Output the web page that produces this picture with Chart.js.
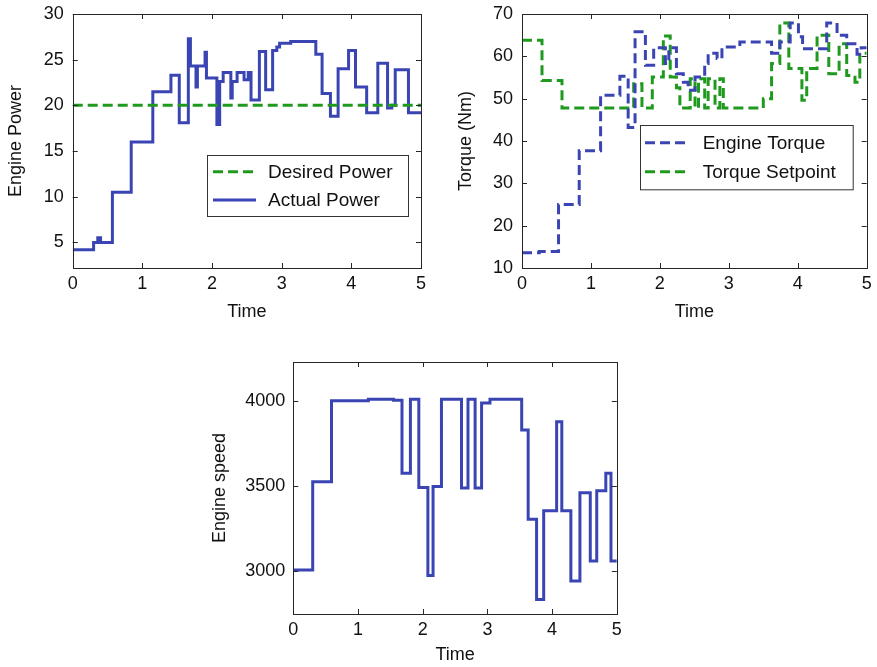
<!DOCTYPE html>
<html>
<head>
<meta charset="utf-8">
<title>Engine power, torque and speed</title>
<script src="https://cdn.jsdelivr.net/npm/chart.js@4.4.1/dist/chart.umd.min.js"></script>
<style>
  html, body { margin: 0; padding: 0; background: #fff; }
  body { width: 877px; height: 667px; position: relative; overflow: hidden; }
  canvas { position: absolute; }
</style>
</head>
<body>
<canvas id="power" width="440" height="330" style="left:0;top:0"></canvas>
<canvas id="torque" width="437" height="330" style="left:440px;top:0"></canvas>
<canvas id="speed" width="440" height="327" style="left:200px;top:340px"></canvas>
<script>
// ---- data: step signals, each value holds from its start time to the next ----
const xTicks = [0, 1, 2, 3, 4, 5];

const desiredPowerT = [0, 5];
const desiredPowerV = [20, 20];
const actualPowerT = [0, 0.30, 0.36, 0.40, 0.57, 0.84, 1.15, 1.41, 1.53, 1.66, 1.69, 1.77, 1.79, 1.90, 1.92,
  2.07, 2.11, 2.16, 2.27, 2.29, 2.36, 2.46, 2.52, 2.56, 2.68, 2.77, 2.87, 2.93, 2.97, 3.13,
  3.49, 3.58, 3.70, 3.81, 3.96, 4.06, 4.22, 4.38, 4.52, 4.58, 4.63, 4.82, 5.0];
const actualPowerV = [4.2, 5.0, 5.5, 5.0, 10.5, 16.0, 21.5, 23.3, 18.1, 27.3, 24.3, 22.0, 24.3, 25.8, 23.0,
  17.9, 22.6, 23.6, 20.8, 22.6, 23.6, 22.8, 23.6, 20.6, 25.9, 21.7, 26.0, 26.4, 26.8, 27.0,
  25.6, 21.3, 18.8, 24.0, 26.0, 22.0, 19.2, 24.6, 19.7, 20.0, 23.9, 19.2, 19.2];
const powerTicks = [5, 10, 15, 20, 25, 30];

const engineTorqueT = [0, 0.25, 0.53, 0.83, 1.14, 1.42, 1.54, 1.64, 1.79, 1.91, 2.08, 2.13, 2.24, 2.34, 2.41,
  2.51, 2.65, 2.70, 2.83, 2.90, 3.16, 3.62, 3.74, 3.89, 4.01, 4.07, 4.42, 4.57, 4.71, 4.86, 4.92, 5.0];
const engineTorqueV = [13.6, 13.9, 25.0, 37.7, 50.8, 55.3, 43.2, 65.8, 57.9, 62.0, 58.3, 62.0, 55.9, 53.9, 52.0,
  55.1, 58.3, 60.7, 59.5, 62.2, 63.4, 60.7, 63.4, 67.9, 64.6, 61.8, 67.9, 65.0, 63.0, 60.5, 62.0, 62.0];
const torqueSetpointT = [0, 0.29, 0.58, 1.62, 1.74, 1.89, 2.05, 2.15, 2.24, 2.29, 2.44, 2.51, 2.56, 2.65, 2.70,
  2.80, 2.87, 2.92, 3.50, 3.62, 3.74, 3.87, 4.06, 4.13, 4.28, 4.45, 4.60, 4.71, 4.83, 4.90, 5.0];
const torqueSetpointV = [63.8, 54.3, 47.8, 53.5, 47.8, 55.1, 64.8, 55.1, 52.6, 47.8, 54.7, 47.8, 54.7, 47.8, 54.7,
  47.8, 54.7, 47.8, 50.0, 58.3, 67.9, 57.1, 49.6, 57.1, 65.0, 55.9, 63.0, 55.5, 53.9, 60.7, 60.7];
const torqueTicks = [10, 20, 30, 40, 50, 60, 70];

const engineSpeedT = [0, 0.30, 0.59, 1.16, 1.55, 1.68, 1.81, 1.94, 2.08, 2.16, 2.29, 2.60, 2.70, 2.81, 2.91,
  3.04, 3.53, 3.63, 3.76, 3.87, 4.07, 4.15, 4.29, 4.43, 4.59, 4.69, 4.83, 4.91, 5.0];
const engineSpeedV = [3005, 3525, 4002, 4010, 4005, 3575, 4010, 3490, 2972, 3497, 4010, 3488, 4010, 3488, 3988,
  4010, 3830, 3303, 2831, 3354, 3878, 3354, 2939, 3460, 3057, 3471, 3574, 3057, 3057];
const speedTicks = [3000, 3500, 4000];

// ---- look ----
const BLUE = '#3a45b3';
const GREEN = '#1f9a1f';
const FONT = "'Liberation Sans', Arial, Helvetica, sans-serif";

const toPoints = (t, v) => t.map((x, i) => ({ x, y: v[i] }));

// axes box with MATLAB-style inward ticks on all four sides
const framePlugin = {
  id: 'frame',
  afterDatasetsDraw(chart) {
    const { ctx, chartArea: a, scales } = chart;
    const len = 5;
    ctx.save();
    ctx.strokeStyle = '#262626';
    ctx.lineWidth = 1;
    ctx.beginPath();
    scales.x.ticks.forEach(t => {
      const p = Math.round(scales.x.getPixelForValue(t.value)) + 0.5;
      ctx.moveTo(p, a.bottom); ctx.lineTo(p, a.bottom - len);
      ctx.moveTo(p, a.top); ctx.lineTo(p, a.top + len);
    });
    scales.y.ticks.forEach(t => {
      const p = Math.round(scales.y.getPixelForValue(t.value)) + 0.5;
      ctx.moveTo(a.left, p); ctx.lineTo(a.left + len, p);
      ctx.moveTo(a.right, p); ctx.lineTo(a.right - len, p);
    });
    ctx.stroke();
    ctx.strokeRect(Math.round(a.left) + 0.5, Math.round(a.top) + 0.5,
      Math.round(a.right - a.left), Math.round(a.bottom - a.top));
    ctx.restore();
  }
};

// boxed legend drawn inside the axes
const boxLegendPlugin = {
  id: 'boxLegend',
  afterDraw(chart, args, o) {
    if (!o || !o.display) return;
    const { ctx } = chart;
    ctx.save();
    ctx.fillStyle = '#fff';
    ctx.fillRect(o.x, o.y, o.w, o.h);
    ctx.strokeStyle = '#333';
    ctx.lineWidth = 1;
    ctx.strokeRect(o.x + 0.5, o.y + 0.5, o.w, o.h);
    chart.data.datasets.forEach((ds, i) => {
      const y = o.rows[i];
      ctx.strokeStyle = ds.borderColor;
      ctx.lineWidth = ds.borderWidth;
      ctx.setLineDash(ds.borderDash || []);
      ctx.beginPath();
      ctx.moveTo(o.sampleX0, y);
      ctx.lineTo(o.sampleX1, y);
      ctx.stroke();
      ctx.setLineDash([]);
      ctx.fillStyle = '#111';
      ctx.font = `${o.fontSize}px ${FONT}`;
      ctx.textBaseline = 'middle';
      ctx.textAlign = 'left';
      ctx.fillText(ds.label, o.textX, y + 1);
    });
    ctx.restore();
  }
};

function makeChart(id, cfg) {
  const tickFont = { family: FONT, size: 18 };
  const titleFont = { family: FONT, size: 18 };
  return new Chart(document.getElementById(id), {
    type: 'line',
    data: { datasets: cfg.datasets },
    options: {
      responsive: false,
      animation: false,
      devicePixelRatio: 1,
      layout: { padding: cfg.padding },
      elements: { point: { radius: 0 }, line: { tension: 0 } },
      plugins: {
        legend: { display: false },
        tooltip: { enabled: false },
        boxLegend: cfg.legend || { display: false }
      },
      scales: {
        x: {
          type: 'linear', min: 0, max: 5,
          grid: { display: false, drawTicks: false },
          border: { display: false },
          ticks: { color: '#111', font: tickFont, padding: 5, callback: v => String(v) },
          afterBuildTicks: s => { s.ticks = xTicks.map(v => ({ value: v })); },
          afterFit: s => { s.height = cfg.xHeight; s.paddingLeft = 0; s.paddingRight = 0; },
          title: { display: true, text: 'Time', color: '#111', font: titleFont, padding: { top: 0, bottom: cfg.xTitlePad } }
        },
        y: {
          type: 'linear', min: cfg.yMin, max: cfg.yMax,
          grid: { display: false, drawTicks: false },
          border: { display: false },
          ticks: { color: '#111', font: tickFont, padding: cfg.yTickPad, callback: v => String(v) },
          afterBuildTicks: s => { s.ticks = cfg.yTicks.map(v => ({ value: v })); },
          afterFit: s => { s.width = cfg.yWidth; s.paddingTop = 0; s.paddingBottom = 0; },
          title: { display: true, text: cfg.yTitle, color: '#111', font: titleFont, padding: { top: cfg.yTitlePad, bottom: 0 } }
        }
      }
    },
    plugins: [framePlugin, boxLegendPlugin]
  });
}

makeChart('power', {
  datasets: [
    { label: 'Desired Power', data: toPoints(desiredPowerT, desiredPowerV), borderColor: GREEN, borderWidth: 3, borderDash: [10, 5], stepped: 'before' },
    { label: 'Actual Power', data: toPoints(actualPowerT, actualPowerV), borderColor: BLUE, borderWidth: 3, stepped: 'before' }
  ],
  padding: { left: 0, top: 14, right: 19, bottom: 0 },
  yWidth: 72.7, xHeight: 62, yMin: 2.2, yMax: 30, yTicks: powerTicks,
  yTitle: 'Engine Power', yTitlePad: 5.2, yTickPad: 9, xTitlePad: 7.2,
  legend: { display: true, x: 207, y: 155, w: 201, h: 61, rows: [171.7, 200], sampleX0: 213, sampleX1: 256, textX: 268, fontSize: 19 }
});

makeChart('torque', {
  datasets: [
    { label: 'Engine Torque', data: toPoints(engineTorqueT, engineTorqueV), borderColor: BLUE, borderWidth: 3, borderDash: [10, 5], stepped: 'before' },
    { label: 'Torque Setpoint', data: toPoints(torqueSetpointT, torqueSetpointV), borderColor: GREEN, borderWidth: 3, borderDash: [10, 5], stepped: 'before' }
  ],
  padding: { left: 0, top: 14, right: 10.3, bottom: 0 },
  yWidth: 82, xHeight: 62, yMin: 10, yMax: 70, yTicks: torqueTicks,
  yTitle: 'Torque (Nm)', yTitlePad: 15.2, yTickPad: 9, xTitlePad: 7.2,
  legend: { display: true, x: 200, y: 125, w: 212.7, h: 64.3, rows: [142.7, 171.7], sampleX0: 205, sampleX1: 250, textX: 262.7, fontSize: 19 }
});

makeChart('speed', {
  datasets: [
    { label: 'Engine speed', data: toPoints(engineSpeedT, engineSpeedV), borderColor: BLUE, borderWidth: 3, stepped: 'before' }
  ],
  padding: { left: 0, top: 22, right: 23.2, bottom: 0 },
  yWidth: 93.3, xHeight: 53, yMin: 2745, yMax: 4230, yTicks: speedTicks,
  yTitle: 'Engine speed', yTitlePad: 9.2, yTickPad: 8, xTitlePad: 1.2
});
</script>
</body>
</html>
